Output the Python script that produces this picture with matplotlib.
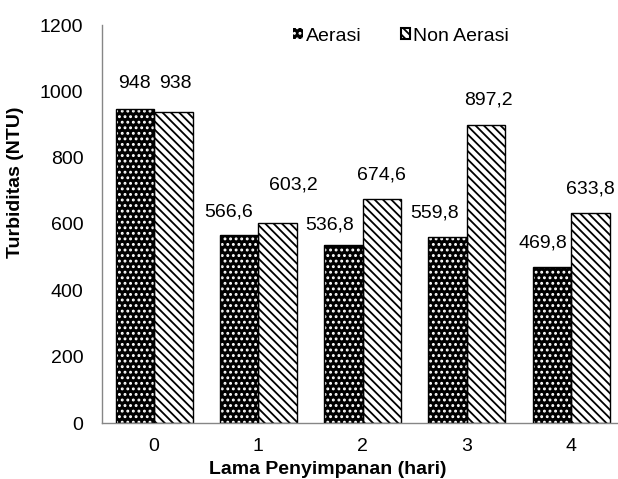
"""Turbidity of stored samples, aerated vs non-aerated."""

import matplotlib

matplotlib.use("Agg")

import matplotlib.pyplot as plt  # noqa: E402
import numpy as np  # noqa: E402

days = ["0", "1", "2", "3", "4"]
aerasi = [948, 566.6, 536.8, 559.8, 469.8]
non_aerasi = [938, 603.2, 674.6, 897.2, 633.8]

# label offsets (pixels) from each bar top, to keep labels from colliding
aerasi_offsets = [(0, 25), (-10, 23), (-14, 20), (-13, 24), (-9, 24)]
non_aerasi_offsets = [(2, 28), (16, 38), (0, 24), (2, 25), (0, 24)]

plt.rcParams["font.family"] = ["Liberation Sans", "DejaVu Sans"]
plt.rcParams["hatch.linewidth"] = 1.3

BAR_WIDTH = 0.37
FONT_SIZE = 14
SPINE_COLOR = "#868686"
DOTS = "..."
STRIPES = "\\" * 4


def fmt(value):
    text = f"{value:g}"
    return text.replace(".", ",")


figure = plt.figure(figsize=(6.18, 4.79), dpi=100)
axis = figure.add_axes([102 / 618, 56 / 479, 516 / 618, 398 / 479])

x = np.arange(len(days))
x_a = x - BAR_WIDTH / 2
x_n = x + BAR_WIDTH / 2

# dotted bars: black fill with white hatch, then a black outline on top
axis.bar(x_a, aerasi, BAR_WIDTH, color="black", edgecolor="white",
         hatch=DOTS, linewidth=0, zorder=2)
axis.bar(x_a, aerasi, BAR_WIDTH, facecolor="none", edgecolor="black",
         linewidth=1.0, zorder=3)
axis.bar(x_n, non_aerasi, BAR_WIDTH, color="white", edgecolor="black",
         hatch=STRIPES, linewidth=1.0, zorder=2)

for xs, values, offsets in ((x_a, aerasi, aerasi_offsets),
                            (x_n, non_aerasi, non_aerasi_offsets)):
    for xi, value, (dx, dy) in zip(xs, values, offsets):
        axis.annotate(fmt(value), (xi, value), xytext=(dx, dy),
                      textcoords="offset pixels", ha="center", va="center",
                      fontsize=FONT_SIZE, annotation_clip=False)

axis.set_xlim(-0.5, 4.45)
axis.set_ylim(0, 1200)
axis.set_xticks(x)
axis.set_xticklabels(days)
axis.set_yticks(range(0, 1201, 200))
axis.tick_params(axis="y", length=0, labelsize=FONT_SIZE, pad=13.5)
axis.tick_params(axis="x", length=0, labelsize=FONT_SIZE, pad=11)
for side in ("top", "right"):
    axis.spines[side].set_visible(False)
for side in ("left", "bottom"):
    axis.spines[side].set_color(SPINE_COLOR)
    axis.spines[side].set_linewidth(1.0)

figure.text(328 / 618, 1 - 469 / 479, "Lama Penyimpanan (hari)",
            ha="center", va="center", fontsize=FONT_SIZE, fontweight="bold")
figure.text(16 / 618, 1 - 182 / 479, "Turbiditas (NTU)", rotation=90,
            ha="center", va="center", fontsize=FONT_SIZE, fontweight="bold")

# legend handles built from proxy bars
proxy_a = plt.Rectangle((0, 0), 1, 1, facecolor="black", edgecolor="white",
                        hatch=DOTS, linewidth=0)
proxy_n = plt.Rectangle((0, 0), 1, 1, facecolor="white", edgecolor="black",
                        hatch=STRIPES, linewidth=1.5)
axis.legend([proxy_a, proxy_n], ["Aerasi", "Non Aerasi"], ncol=2,
            loc="center", bbox_to_anchor=(0.58, 0.972), frameon=False,
            fontsize=FONT_SIZE, handlelength=0.5, handleheight=0.5,
            handletextpad=0.15, columnspacing=2.0, borderpad=0)

figure.savefig("out.png", dpi=100)
plt.close(figure)
